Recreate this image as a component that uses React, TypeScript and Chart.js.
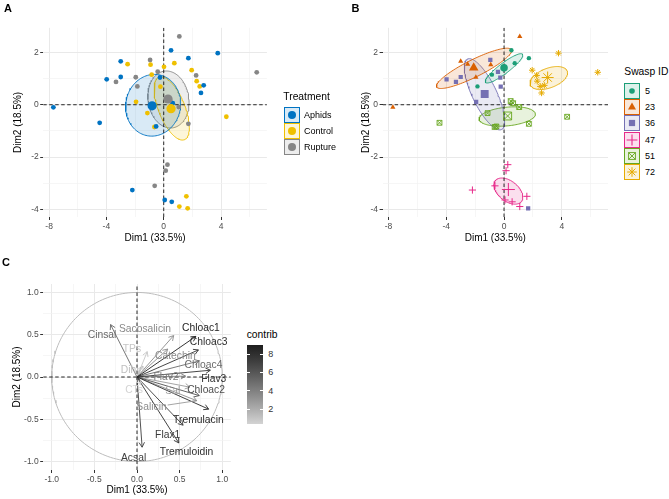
import React, { useEffect, useRef } from "react";
import { Chart, registerables } from "chart.js";

Chart.register(...registerables);

const FONT = "'Liberation Sans', Arial, Helvetica, sans-serif";

// ================= Individuals (PCA scores) =================
const indDim1 = [
  -7.7, -3.0, -2.52, -0.92, -1.95, 1.09,
  0.51, 1.72, 0.74, 0.02, -0.84, -1.84,
  -3.98, -3.0, -0.26, -0.23, -1.93, 1.67, -3.33, -0.95, -0.42,
  -2.19, 0.07, 0.56, 1.09, 1.58, 0.26, 0.14, -0.63,
  -4.47, -0.53, 0.63, -1.14, -0.65, 4.37, 0.46, 1.05, 1.72,
  3.77, 2.79, 2.6, 1.95, 2.3, 2.51, 2.26, 6.49,
];
const indDim2 = [
  -0.1, 1.66, 1.55, 1.53, 1.05, 2.61,
  2.08, 1.78, 1.59, 1.45, 1.15, 0.7,
  0.97, 1.06, 1.04, 0.69, 0.11, -3.96, 0.87, 1.71, 1.26,
  -3.26, -3.64, -3.71, -3.89, -3.5, -2.29, -2.52, -3.1,
  -0.69, -0.83, 0.06, -0.32, -0.85, -0.46, 0.14, -0.09, -0.73,
  1.97, 0.74, 0.45, 1.32, 0.9, 0.7, 1.12, 1.24,
];
const indTreatment = [
  "Aphids", "Aphids", "Control", "Control", "Rupture", "Rupture",
  "Aphids", "Aphids", "Control", "Control", "Control", "Rupture",
  "Aphids", "Aphids", "Aphids", "Control", "Control", "Control", "Rupture", "Rupture", "Rupture",
  "Aphids", "Aphids", "Aphids", "Control", "Control", "Rupture", "Rupture", "Rupture",
  "Aphids", "Aphids", "Aphids", "Control", "Control", "Control", "Rupture", "Rupture", "Rupture",
  "Aphids", "Aphids", "Aphids", "Control", "Control", "Control", "Rupture", "Rupture",
];
const indWasp = [
  "23", "23", "23", "23", "23", "23",
  "5", "5", "5", "5", "5", "5",
  "36", "36", "36", "36", "36", "36", "36", "36", "36",
  "47", "47", "47", "47", "47", "47", "47", "47",
  "51", "51", "51", "51", "51", "51", "51", "51", "51",
  "72", "72", "72", "72", "72", "72", "72", "72",
];

const indXRange = [-8.41, 7.2];
const indYRange = [-4.29, 2.94];
const indXMajor = [-8, -4, 0, 4];
const indXMinor = [-6, -2, 2, 6];
const indYMajor = [-4, -2, 0, 2];
const indYMinor = [-3, -1, 1];

// ---- Treatment groups (panel A) ----
const treatments = ["Aphids", "Control", "Rupture"];
const treatmentColors = ["#0073C2", "#EFC000", "#868686"];
const treatCentroidX = [-0.81, 0.51, 0.3];
const treatCentroidY = [-0.04, -0.15, 0.22];
const treatEllCx = [-0.74, 0.56, 0.33];
const treatEllCy = [-0.02, -0.14, 0.2];
const treatEllRx = [1.92, 1.23, 1.44];
const treatEllRy = [1.18, 1.21, 1.09];
const treatEllRho = [0.05, -0.6, -0.1];

// ---- Swasp groups (panel B) ----
const wasps = ["5", "23", "36", "47", "51", "72"];
const waspColors = ["#1B9E77", "#D95F02", "#7570B3", "#E7298A", "#66A61E", "#E6AB02"];
const waspShapes = ["circle", "triangle", "rect", "cross", "boxcross", "star"];
const waspCentroidX = [0.0, -2.1, -1.34, 0.3, 0.25, 3.02];
const waspCentroidY = [1.41, 1.41, 0.41, -3.24, -0.43, 1.04];
const waspEllCx = [0.0, -2.08, -1.35, 0.3, 0.22, 3.1];
const waspEllCy = [1.39, 1.39, 0.4, -3.3, -0.45, 1.02];
const waspEllRx = [1.3, 2.6, 1.4, 1.0, 1.95, 1.3];
const waspEllRy = [0.56, 0.77, 1.36, 0.5, 0.37, 0.44];
const waspEllRho = [0.9, 0.88, -0.75, -0.45, 0.25, 0.45];

// ================= Variables (panel C) =================
const varNames = [
  "Cinsal", "Sacosalicin", "TPs", "Dihy", "CTs", "Catechin", "Chloac1", "Chloac3", "Chloac4",
  "Flav3", "Flav2", "Sal", "Chloac2", "Salicin", "Tremulacin", "Flax1", "Tremuloidin", "Acsal",
];
const varDim1 = [-0.31, 0.43, 0.12, 0.07, 0.04, 0.36, 0.69, 0.72, 0.73, 0.86, 0.57, 0.62, 0.73, 0.7, 0.84, 0.54, 0.49, 0.06];
const varDim2 = [0.62, 0.49, 0.3, 0.13, -0.09, 0.33, 0.48, 0.32, 0.19, 0.08, 0.01, -0.12, -0.22, -0.28, -0.38, -0.57, -0.78, -0.83];
const varContrib = [5.2, 3.6, 0.9, 1.2, 0.36, 3.6, 8.98, 7.9, 5.0, 7.8, 4.2, 2.8, 6.3, 3.4, 8.3, 7.4, 8.0, 7.2];
const varLabelX = [-0.41, 0.094, -0.06, -0.07, -0.035, 0.45, 0.75, 0.84, 0.78, 0.9, 0.34, 0.42, 0.81, 0.17, 0.72, 0.36, 0.58, -0.04];
const varLabelY = [0.5, 0.57, 0.33, 0.08, -0.16, 0.25, 0.58, 0.41, 0.14, -0.02, 0.0, -0.17, -0.15, -0.36, -0.51, -0.69, -0.89, -0.955];
const varLeader = [false, false, false, false, false, false, false, false, false, false, false, false, false, true, false, false, false, false];

const varRange = [-1.1, 1.1];
const varMajor = [-1, -0.5, 0, 0.5, 1];
const varMinor = [-0.75, -0.25, 0.25, 0.75];
const contribRange = [0.36, 8.98];
const contribTicks = [2, 4, 6, 8];

// ================= helpers =================
function hexA(hex: string, a: number) {
  const r = parseInt(hex.slice(1, 3), 16);
  const g = parseInt(hex.slice(3, 5), 16);
  const b = parseInt(hex.slice(5, 7), 16);
  return `rgba(${r},${g},${b},${a})`;
}

function greyToL(g: number) {
  const c = g / 255;
  const lin = c <= 0.04045 ? c / 12.92 : Math.pow((c + 0.055) / 1.055, 2.4);
  return lin > 0.008856 ? 116 * Math.cbrt(lin) - 16 : 903.3 * lin;
}
function LToGrey(L: number) {
  const Y = L > 8 ? Math.pow((L + 16) / 116, 3) : L / 903.3;
  const c = Y <= 0.0031308 ? 12.92 * Y : 1.055 * Math.pow(Y, 1 / 2.4) - 0.055;
  return Math.round(Math.max(0, Math.min(1, c)) * 255);
}
const LOW_L = greyToL(211);
const HIGH_L = greyToL(30);
function contribColor(v: number) {
  const t = Math.max(0, Math.min(1, (v - contribRange[0]) / (contribRange[1] - contribRange[0])));
  const g = LToGrey(LOW_L + (HIGH_L - LOW_L) * t);
  return `rgb(${g},${g},${g})`;
}

function ellipsePts(cx: number, cy: number, rx: number, ry: number, rho: number) {
  const d = Math.acos(Math.max(-1, Math.min(1, rho)));
  const pts: { x: number; y: number }[] = [];
  for (let k = 0; k <= 120; k++) {
    const t = (k / 120) * Math.PI * 2;
    pts.push({ x: cx + rx * Math.cos(t), y: cy + ry * Math.cos(t - d) });
  }
  return pts;
}

function axis(o: any) {
  const all = [...o.major, ...o.minor].sort((a: number, b: number) => a - b);
  const isMajor = (v: number) => o.major.some((m: number) => Math.abs(m - v) < 1e-9);
  const tv = (c: any) => (c && c.tick ? c.tick.value : 0);
  return {
    type: "linear",
    min: o.min,
    max: o.max,
    afterBuildTicks: (s: any) => {
      s.ticks = all.map((v: number) => ({ value: v }));
    },
    afterFit: (s: any) => {
      if (o.horizontal) s.height = o.fitSize;
      else s.width = o.fitSize;
    },
    ticks: {
      autoSkip: false,
      maxRotation: 0,
      minRotation: 0,
      padding: 1.5,
      color: "#4D4D4D",
      font: { family: FONT, size: 8.5 },
      callback: (v: number) => (isMajor(v) ? o.fmt(v) : ""),
    },
    grid: {
      drawTicks: true,
      tickLength: 3,
      color: (c: any) => (isMajor(tv(c)) ? "#E9E9E9" : "#F2F2F2"),
      lineWidth: (c: any) => (isMajor(tv(c)) ? 1 : 0.7),
      tickColor: (c: any) => (isMajor(tv(c)) ? "#333333" : "rgba(0,0,0,0)"),
      tickWidth: 1,
    },
    border: { display: false },
    title: {
      display: true,
      text: o.title,
      color: "#000",
      font: { family: FONT, size: 10 },
      padding: o.titlePad,
    },
  };
}

function symbolSets(points: any[], shape: string, color: string, r: number, order: number) {
  const base = { type: "scatter", data: points, pointRadius: r, order, pointHoverRadius: r };
  if (shape === "circle" || shape === "triangle" || shape === "rect") {
    return [{ ...base, pointStyle: shape, backgroundColor: color, borderColor: color, borderWidth: 0 }];
  }
  if (shape === "boxcross") {
    return [
      { ...base, pointStyle: "rect", backgroundColor: "rgba(0,0,0,0)", borderColor: color, borderWidth: 0.9 },
      { ...base, pointStyle: "crossRot", backgroundColor: "rgba(0,0,0,0)", borderColor: color, borderWidth: 0.9 },
    ];
  }
  return [{ ...base, pointStyle: shape, backgroundColor: "rgba(0,0,0,0)", borderColor: color, borderWidth: 1 }];
}

function zeroLines(xr: number[], yr: number[]) {
  const common = { type: "line", borderColor: "#111", borderWidth: 0.9, borderDash: [3.5, 2.5], pointRadius: 0, fill: false, order: 4 };
  return [
    { ...common, data: [{ x: 0, y: yr[0] }, { x: 0, y: yr[1] }] },
    { ...common, data: [{ x: xr[0], y: 0 }, { x: xr[1], y: 0 }] },
  ];
}

function ellipseSet(pts: any[], color: string) {
  return {
    type: "line",
    data: pts,
    fill: "shape",
    backgroundColor: hexA(color, 0.15),
    borderColor: color,
    borderWidth: 0.9,
    pointRadius: 0,
    tension: 0,
    order: 5,
  };
}

const baseOptions = (padding: any, scales: any) => ({
  responsive: false,
  maintainAspectRatio: false,
  animation: false,
  events: [],
  layout: { padding },
  plugins: { legend: { display: false }, tooltip: { enabled: false } },
  scales,
});

const varPlugin = {
  id: "varDecor",
  afterDatasetsDraw(chart: any) {
    const { ctx } = chart;
    const xs = chart.scales.x;
    const ys = chart.scales.y;
    const ox = xs.getPixelForValue(0);
    const oy = ys.getPixelForValue(0);
    ctx.save();
    varNames.forEach((_, i) => {
      const tx = xs.getPixelForValue(varDim1[i]);
      const ty = ys.getPixelForValue(varDim2[i]);
      const ang = Math.atan2(ty - oy, tx - ox);
      const L = 5.5;
      const A = Math.PI / 6;
      ctx.strokeStyle = contribColor(varContrib[i]);
      ctx.lineWidth = 0.9;
      ctx.beginPath();
      ctx.moveTo(tx - L * Math.cos(ang - A), ty - L * Math.sin(ang - A));
      ctx.lineTo(tx, ty);
      ctx.lineTo(tx - L * Math.cos(ang + A), ty - L * Math.sin(ang + A));
      ctx.stroke();
    });
    ctx.font = `10.3px ${FONT}`;
    ctx.textAlign = "center";
    ctx.textBaseline = "middle";
    varNames.forEach((name, i) => {
      const lx = xs.getPixelForValue(varLabelX[i]);
      const ly = ys.getPixelForValue(varLabelY[i]);
      const col = contribColor(varContrib[i]);
      if (varLeader[i]) {
        const tx = xs.getPixelForValue(varDim1[i]);
        const ty = ys.getPixelForValue(varDim2[i]);
        const w = ctx.measureText(name).width / 2 + 1;
        const h = 6;
        const dx = tx - lx;
        const dy = ty - ly;
        const s = Math.min(Math.abs(w / (dx || 1e-6)), Math.abs(h / (dy || 1e-6)));
        ctx.strokeStyle = col;
        ctx.lineWidth = 0.8;
        ctx.beginPath();
        ctx.moveTo(lx + dx * s, ly + dy * s);
        ctx.lineTo(tx, ty);
        ctx.stroke();
      }
      ctx.fillStyle = col;
      ctx.fillText(name, lx, ly);
    });
    ctx.restore();
  },
};

function LegendSymbol({ shape, color }: { shape: string; color: string }) {
  const c = 8;
  if (shape === "circle") return <circle cx={c} cy={c} r={2.8} fill={color} />;
  if (shape === "triangle") return <polygon points="8,3.6 12,10.6 4,10.6" fill={color} />;
  if (shape === "rect") return <rect x={4.9} y={4.9} width={6.2} height={6.2} fill={color} />;
  if (shape === "cross")
    return <path d="M8 2.6V13.4M2.6 8H13.4" stroke={color} strokeWidth={1.1} fill="none" />;
  if (shape === "boxcross")
    return (
      <g stroke={color} strokeWidth={0.9} fill="none">
        <rect x={4.6} y={4.6} width={6.8} height={6.8} />
        <path d="M4.6 4.6L11.4 11.4M11.4 4.6L4.6 11.4" />
      </g>
    );
  return (
    <path
      d="M8 3.2V12.8M3.2 8H12.8M4.6 4.6L11.4 11.4M11.4 4.6L4.6 11.4"
      stroke={color}
      strokeWidth={1}
      fill="none"
    />
  );
}

export default function App() {
  const refA = useRef<HTMLCanvasElement>(null);
  const refB = useRef<HTMLCanvasElement>(null);
  const refC = useRef<HTMLCanvasElement>(null);

  useEffect(() => {
    const pts = (filter: (i: number) => boolean) =>
      indDim1.map((x, i) => ({ x, y: indDim2[i], i })).filter((p) => filter(p.i)).map((p) => ({ x: p.x, y: p.y }));

    const xAxis = (fit: number, pad: any) =>
      axis({ min: indXRange[0], max: indXRange[1], major: indXMajor, minor: indXMinor, title: "Dim1 (33.5%)", fmt: (v: number) => String(v), fitSize: fit, horizontal: true, titlePad: pad });
    const yAxis = (fit: number, pad: any) =>
      axis({ min: indYRange[0], max: indYRange[1], major: indYMajor, minor: indYMinor, title: "Dim2 (18.5%)", fmt: (v: number) => String(v), fitSize: fit, horizontal: false, titlePad: pad });

    // ---------- Panel A ----------
    const dsA: any[] = [];
    treatments.forEach((t, k) => {
      dsA.push(ellipseSet(ellipsePts(treatEllCx[k], treatEllCy[k], treatEllRx[k], treatEllRy[k], treatEllRho[k]), treatmentColors[k]));
    });
    dsA.push(...zeroLines(indXRange, indYRange));
    treatments.forEach((t, k) => {
      dsA.push(...symbolSets(pts((i) => indTreatment[i] === t), "circle", treatmentColors[k], 2.4, 2));
    });
    treatments.forEach((t, k) => {
      dsA.push(...symbolSets([{ x: treatCentroidX[k], y: treatCentroidY[k] }], "circle", treatmentColors[k], 4.6, 1));
    });
    const chartA = new Chart(refA.current as HTMLCanvasElement, {
      type: "scatter",
      data: { datasets: dsA },
      options: baseOptions({ left: 0, top: 27.8, right: 13.1, bottom: 0 }, {
        x: xAxis(33, { top: 0, bottom: 6 }),
        y: yAxis(43.2, { top: 12, bottom: 0 }),
      }) as any,
    } as any);

    // ---------- Panel B ----------
    const dsB: any[] = [];
    wasps.forEach((w, k) => {
      dsB.push(ellipseSet(ellipsePts(waspEllCx[k], waspEllCy[k], waspEllRx[k], waspEllRy[k], waspEllRho[k]), waspColors[k]));
    });
    dsB.push(...zeroLines(indXRange, indYRange));
    const smallR = [2.2, 3.0, 3.0, 3.6, 3.4, 3.2];
    const bigR = [3.8, 5.5, 5.6, 6.5, 5.6, 6.0];
    wasps.forEach((w, k) => {
      dsB.push(...symbolSets(pts((i) => indWasp[i] === w), waspShapes[k], waspColors[k], smallR[k], 2));
    });
    wasps.forEach((w, k) => {
      dsB.push(...symbolSets([{ x: waspCentroidX[k], y: waspCentroidY[k] }], waspShapes[k], waspColors[k], bigR[k], 1));
    });
    const chartB = new Chart(refB.current as HTMLCanvasElement, {
      type: "scatter",
      data: { datasets: dsB },
      options: baseOptions({ left: 0, top: 27.8, right: 12, bottom: 0 }, {
        x: xAxis(33, { top: 0, bottom: 6 }),
        y: yAxis(52.6, { top: 30, bottom: 0 }),
      }) as any,
    } as any);

    // ---------- Panel C ----------
    const circle: any[] = [];
    for (let k = 0; k <= 180; k++) {
      const a = (k / 180) * Math.PI * 2;
      circle.push({ x: Math.cos(a), y: Math.sin(a) });
    }
    const dsC: any[] = [
      { type: "line", data: circle, borderColor: "#BDBDBD", borderWidth: 1, pointRadius: 0, fill: false, order: 6 },
      ...zeroLines(varRange, varRange),
    ];
    varNames.forEach((n, i) => {
      dsC.push({
        type: "line",
        data: [{ x: 0, y: 0 }, { x: varDim1[i], y: varDim2[i] }],
        borderColor: contribColor(varContrib[i]),
        borderWidth: 0.9,
        pointRadius: 0,
        fill: false,
        order: 3 - varContrib[i] / 10,
      });
    });
    const fmtC = (v: number) => v.toFixed(1);
    const chartC = new Chart(refC.current as HTMLCanvasElement, {
      type: "scatter",
      data: { datasets: dsC },
      options: baseOptions({ left: 0, top: 34, right: 9.2, bottom: 0 }, {
        x: axis({ min: varRange[0], max: varRange[1], major: varMajor, minor: varMinor, title: "Dim1 (33.5%)", fmt: fmtC, fitSize: 29, horizontal: true, titlePad: { top: 0, bottom: 2.3 } }),
        y: axis({ min: varRange[0], max: varRange[1], major: varMajor, minor: varMinor, title: "Dim2 (18.5%)", fmt: fmtC, fitSize: 43.2, horizontal: false, titlePad: { top: 11.3, bottom: 0 } }),
      }) as any,
      plugins: [varPlugin],
    } as any);

    return () => {
      chartA.destroy();
      chartB.destroy();
      chartC.destroy();
    };
  }, []);

  const cbTop = 345;
  const cbH = 79.3;
  const cbLeft = 246.7;
  const cbW = 16;
  const cbY = (v: number) => cbTop + cbH * (1 - (v - contribRange[0]) / (contribRange[1] - contribRange[0]));
  const stops: string[] = [];
  for (let k = 0; k <= 10; k++) {
    const t = k / 10;
    stops.push(`${contribColor(contribRange[0] + t * (contribRange[1] - contribRange[0]))} ${t * 100}%`);
  }

  const abs = (l: number, t: number, extra: any = {}) => ({ position: "absolute" as const, left: l, top: t, ...extra });

  return (
    <div style={{ position: "absolute", left: 0, top: 0, width: 669, height: 499, background: "#fff", fontFamily: FONT, color: "#000", overflow: "hidden" }}>
      <canvas ref={refA} width={280} height={250} style={{ position: "absolute", left: 0, top: 0, width: 280, height: 250 }} />
      <canvas ref={refB} width={290} height={250} style={{ position: "absolute", left: 330, top: 0, width: 290, height: 250 }} />
      <canvas ref={refC} width={240} height={249} style={{ position: "absolute", left: 0, top: 250, width: 240, height: 249 }} />

      <div style={abs(4, 2.6, { fontSize: 11, lineHeight: "11px", fontWeight: "bold" })}>A</div>
      <div style={abs(351.5, 2.6, { fontSize: 11, lineHeight: "11px", fontWeight: "bold" })}>B</div>
      <div style={abs(2, 256.6, { fontSize: 11, lineHeight: "11px", fontWeight: "bold" })}>C</div>

      {/* Legend A */}
      <div style={abs(283.3, 92, { fontSize: 10.3, lineHeight: "10.3px", whiteSpace: "nowrap" })}>Treatment</div>
      {treatments.map((t, i) => (
        <React.Fragment key={t}>
          <svg style={abs(284, 107 + 16 * i)} width={16} height={16}>
            <rect x={0.5} y={0.5} width={15} height={15} fill={hexA(treatmentColors[i], 0.15)} stroke={treatmentColors[i]} strokeWidth={1} />
            <circle cx={8} cy={8} r={4} fill={treatmentColors[i]} />
          </svg>
          <div style={abs(304, 107 + 16 * i, { height: 16, display: "flex", alignItems: "center", fontSize: 9, whiteSpace: "nowrap" })}>{t}</div>
        </React.Fragment>
      ))}

      {/* Legend B */}
      <div style={abs(624.3, 67, { fontSize: 10.3, lineHeight: "10.3px", whiteSpace: "nowrap" })}>Swasp ID</div>
      {wasps.map((w, i) => (
        <React.Fragment key={w}>
          <svg style={abs(624, 83 + 16.2 * i)} width={16} height={16}>
            <rect x={0.5} y={0.5} width={15} height={15} fill={hexA(waspColors[i], 0.15)} stroke={waspColors[i]} strokeWidth={1} />
            <LegendSymbol shape={waspShapes[i]} color={waspColors[i]} />
          </svg>
          <div style={abs(645, 83 + 16.2 * i, { height: 16, display: "flex", alignItems: "center", fontSize: 9, whiteSpace: "nowrap" })}>{w}</div>
        </React.Fragment>
      ))}

      {/* Legend C (colour bar) */}
      <div style={abs(246.7, 330.4, { fontSize: 10.3, lineHeight: "10.3px", whiteSpace: "nowrap" })}>contrib</div>
      <div style={abs(cbLeft, cbTop, { width: cbW, height: cbH, background: `linear-gradient(to top, ${stops.join(", ")})` })} />
      {contribTicks.map((v) => (
        <React.Fragment key={v}>
          <div style={abs(cbLeft, cbY(v) - 0.5, { width: 3, height: 1, background: "#fff" })} />
          <div style={abs(cbLeft + cbW - 3, cbY(v) - 0.5, { width: 3, height: 1, background: "#fff" })} />
          <div style={abs(268.3, cbY(v) - 5, { fontSize: 9, lineHeight: "10px", color: "#333" })}>{v}</div>
        </React.Fragment>
      ))}
    </div>
  );
}
